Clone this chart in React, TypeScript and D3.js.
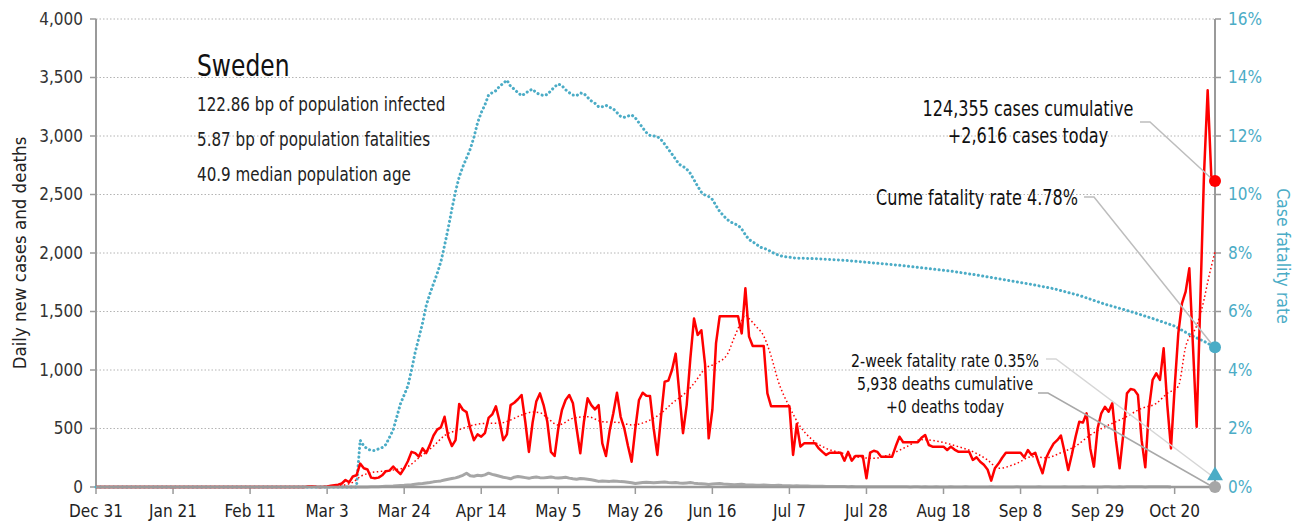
import React from 'react'
import * as d3 from 'd3'

// daily series start on Dec 31, 2019 (index = days since then)
const startDate = '2019-12-31'
const endDate = '2020-10-31'

const dailyCases = [
  0,0,0,0,0,0,0,0,0,0, 0,0,0,0,0,0,0,0,0,0, 0,0,0,0,0,0,0,0,0,0,
  0,0,1,0,0,0,0,0,0,0, 0,0,0,0,0,0,0,0,0,0, 0,0,0,0,0,0,0,1,5,5,
  2,1,2,
  5,10,15,20,30,60,40,90,100,200, 160,150,80,75,80,100,135,140,175,140,
  110,160,220,300,290,260,330,290,360,440, 490,510,600,430,350,400,710,660,640,500,
  400,450,430,460,590,620,690,560,400,450, 700,720,750,786,560,300,550,730,800,700,
  560,300,265,500,658,744,786,715,500,288, 560,758,700,664,700,373,265,480,630,806,
  600,501,350,216,500,744,806,780,778,500, 274,600,900,909,1000,1140,800,460,700,1100,
  1440,1300,1340,1050,416,660,1230,1460,1460,1460, 1460,1460,1460,1313,1698,1285,1205,1205,1205,1205,
  800,690,690,690,690,690,690,274,538,345, 373,373,373,373,330,300,274,293,293,293,
  293,225,300,225,265,265,265,74,293,310, 300,259,259,259,259,350,430,382,382,382,
  382,382,420,444,359,345,345,345,345,316, 345,320,302,302,302,302,231,254,216,190,
  150,54,160,200,250,293,293,293,293,293, 254,316,274,293,200,117,250,316,370,400,
  440,300,145,280,430,558,550,630,330,174, 500,630,686,644,715,400,160,450,800,838,
  830,786,400,168,672,915,972,915,1185,700, 330,850,1313,1570,1670,1869,1200,515,1590,2670,
  3390,2650,2616,
]

const dailyDeaths = [
  0,0,0,0,0,0,0,0,0,0, 0,0,0,0,0,0,0,0,0,0, 0,0,0,0,0,0,0,0,0,0,
  0,0,0,0,0,0,0,0,0,0, 0,0,0,0,0,0,0,0,0,0, 0,0,0,0,0,0,0,0,0,0,
  0,0,0,
  0,0,0,0,0,0,0,0,1,0, 1,1,2,3,3,5,6,7,8,10,
  12,14,17,20,24,28,30,34,38,44, 48,52,60,66,72,78,88,100,118,96,
  92,100,96,104,118,108,100,92,84,78, 70,84,90,86,80,74,82,86,80,78,
  82,86,80,76,80,84,76,70,66,72, 70,66,62,56,48,52,50,48,52,50,
  46,44,40,36,30,34,38,40,38,36, 38,40,42,38,36,38,34,32,35,38,
  33,30,28,26,22,25,28,30,26,24, 22,20,22,24,20,18,17,16,15,17,
  15,13,12,14,12,11,10,9,10,8, 9,8,7,7,6,6,5,5,5,4,
  4,4,3,4,3,3,3,3,3,2, 3,2,2,2,2,2,3,2,2,1, 2,2,1,2,1,1,2,1,1,1,
  2,1,1,1,2,1,1,1,1,1, 1,2,1,1,1,1,1,1,2,1, 1,1,1,1,2,1,1,1,1,1,
  1,2,1,1,1,1,2,1,1,1, 1,1,2,2,1,1,2,1,2,2, 3,2,2,1,2,3,2,3,2,2,
  0,
]

// 7-day trend of new cases (red dotted), read at irregular days
const trendDay = [0,63,66,70,72,74,78,81,85,88,92,95,99,103,107,110,112,116,119,121,123,126,130,134,138,143,146,150,154,157,161,163,166,169,172,174,176,177,178,180,182,184,186,189,192,195,199,203,207,212,216,221,225,230,235,239,243,246,251,255,259,263,267,271,275,280,285,289,292,295,297,300,302,303,305]
const trendValue = [0,0,10,40,88,115,135,145,175,250,350,440,490,530,545,545,560,615,640,635,590,530,587,601,558,550,530,558,630,715,815,886,1010,1057,1130,1280,1420,1470,1440,1370,1290,1120,900,686,515,410,330,293,260,245,274,345,405,387,345,302,231,160,202,259,250,293,350,444,515,587,672,715,800,860,1199,1380,1600,1750,2010]

// case fatality rate, percent
const cfrDay = [0,71,
  72,73,74,75,76,77,78,79,80,81,82,83,84,85,86,87,88,89,90,91,
  92,93,94,95,96,97,98,99,100,101,102,103,104,105,106,107,108,109,110,111,
  112,113,114,115,116,117,118,119,120,121,122,123,124,125,126,127,128,129,130,131,
  132,133,134,135,136,137,138,139,140,141,142,143,144,145,146,147,148,149,150,151,
  152,153,154,155,156,157,158,159,160,161,162,163,164,165,166,167,168,169,170,171,
  172,173,174,175,176,177,178,179,180,181,182,183,184,185,186,187,188,189,190,
  197,205,212,219,226,233,240,247,254,261,268,275,282,289,294,298,302,305]
const cfrValue = [0,0,
  1.6,1.4,1.3,1.25,1.25,1.3,1.35,1.45,1.7,1.95,2.4,2.85,3.15,3.45,4.0,4.6,5.1,5.6,6.2,6.6,
  6.95,7.3,7.7,8.25,8.85,9.5,10.1,10.6,10.95,11.25,11.55,11.95,12.45,12.8,13.06,13.4,13.48,13.55,13.7,13.8,
  13.91,13.7,13.6,13.48,13.38,13.45,13.55,13.6,13.48,13.42,13.38,13.42,13.55,13.68,13.78,13.72,13.58,13.48,13.4,13.38,
  13.47,13.45,13.32,13.2,13.12,13.0,13.0,13.05,12.98,12.93,12.8,12.67,12.64,12.68,12.72,12.62,12.45,12.28,12.12,12.02,
  12.0,11.98,11.88,11.72,11.55,11.38,11.2,11.03,10.96,10.87,10.72,10.5,10.28,10.08,9.98,9.93,9.83,9.62,9.42,9.28,
  9.15,9.06,9.0,8.95,8.82,8.62,8.46,8.38,8.3,8.2,8.16,8.12,8.04,7.98,7.93,7.89,7.87,7.86,7.83,
  7.8,7.74,7.66,7.58,7.48,7.38,7.25,7.1,6.95,6.78,6.55,6.25,6.0,5.72,5.5,5.22,4.98,4.78]

const leftTicks = [0, 500, 1000, 1500, 2000, 2500, 3000, 3500, 4000]
const rightTicks = [0, 2, 4, 6, 8, 10, 12, 14, 16]

const title = 'Sweden'
const stats = ['122.86 bp of population infected', '5.87 bp of population fatalities', '40.9 median population age']
const casesNote = ['124,355 cases cumulative', '+2,616 cases today']
const cfrNote = 'Cume fatality rate 4.78%'
const twoWeekRate = 0.35
const deathsNote = ['2-week fatality rate 0.35%', '5,938 deaths cumulative', '+0 deaths today']

const FONT = "'DejaVu Sans Condensed', 'DejaVu Sans', sans-serif"
const RED = '#ff0000'
const BLUE = '#4bacc6'
const GRAY = '#a6a6a6'

const W = 1314, H = 524
const m = { left: 96, right: 1215, top: 19, bottom: 487 }

// text squeezed horizontally, to look like the narrow face of the original
function NText(props: { x: number, y: number, size: number, sx: number, anchor?: string, fill?: string, children: any }) {
  const { x, y, size, sx, anchor = 'start', fill = '#111', children } = props
  return (
    <text transform={`translate(${x},${y}) scale(${sx},1)`} textAnchor={anchor} fontSize={size} fill={fill}>{children}</text>
  )
}

export default function App() {
  const t0 = d3.timeParse('%Y-%m-%d')(startDate) as Date
  const t1 = d3.timeParse('%Y-%m-%d')(endDate) as Date
  const day = (i: number) => d3.timeDay.offset(t0, i)

  const x = d3.scaleTime().domain([t0, t1]).range([m.left, m.right])
  const yL = d3.scaleLinear().domain([0, 4000]).range([m.bottom, m.top])
  const yR = d3.scaleLinear().domain([0, 16]).range([m.bottom, m.top])

  const xTicks = d3.range(0, 15).map(i => day(i * 21))
  const fmtDate = d3.timeFormat('%b %-d')
  const fmtNum = d3.format(',')

  const lineL = d3.line<[number, number]>().x(d => x(day(d[0]))).y(d => yL(d[1]))
  const lineR = d3.line<[number, number]>().x(d => x(day(d[0]))).y(d => yR(d[1]))
  const smooth = d3.line<[number, number]>().x(d => x(day(d[0]))).y(d => yL(d[1])).curve(d3.curveMonotoneX)

  const casesPts = dailyCases.map((v, i) => [i, v] as [number, number])
  const deathsPts = dailyDeaths.map((v, i) => [i, v] as [number, number])
  const trendPts = trendDay.map((d, i) => [d, trendValue[i]] as [number, number])
  const cfrPts = cfrDay.map((d, i) => [d, cfrValue[i]] as [number, number])

  const lastI = dailyCases.length - 1
  const ex = x(day(lastI))
  const lastCases = yL(dailyCases[lastI])
  const lastCfr = yR(cfrValue[cfrValue.length - 1])
  const lastDeaths = yL(dailyDeaths[dailyDeaths.length - 1])
  const twoWeekY = yR(twoWeekRate)

  return (
    <svg width={W} height={H} style={{ position: 'absolute', left: 0, top: 0, background: '#fff' }} fontFamily={FONT}>
      {/* grid */}
      {leftTicks.filter(v => v > 0).map(v => (
        <line key={'g' + v} x1={m.left} x2={m.right} y1={yL(v)} y2={yL(v)} stroke="#b4b4b4" strokeWidth={1} strokeDasharray="1.5,2" />
      ))}

      {/* axes */}
      <line x1={m.left} x2={m.left} y1={m.top} y2={m.bottom} stroke="#9a9a9a" strokeWidth={2} />
      <line x1={m.right} x2={m.right} y1={m.top} y2={m.bottom} stroke="#9a9a9a" strokeWidth={2} />
      {leftTicks.map(v => (
        <g key={'l' + v}>
          <line x1={m.left - 6} x2={m.left} y1={yL(v)} y2={yL(v)} stroke="#9a9a9a" strokeWidth={1.5} />
          <text x={m.left - 13} y={yL(v)} dy="0.35em" textAnchor="end" fontSize={17} fill="#333">{fmtNum(v)}</text>
        </g>
      ))}
      {rightTicks.map(v => (
        <g key={'r' + v}>
          <line x1={m.right} x2={m.right + 6} y1={yR(v)} y2={yR(v)} stroke="#9a9a9a" strokeWidth={1.5} />
          <text x={m.right + 13} y={yR(v)} dy="0.35em" textAnchor="start" fontSize={17} fill={BLUE}>{v + '%'}</text>
        </g>
      ))}
      {xTicks.map((t, i) => (
        <g key={'x' + i}>
          <line x1={x(t)} x2={x(t)} y1={m.bottom} y2={m.bottom + 7} stroke="#9a9a9a" strokeWidth={1.5} />
          <text x={x(t)} y={517} textAnchor="middle" fontSize={17} fill="#222">{fmtDate(t)}</text>
        </g>
      ))}
      <text transform={`translate(26,${(m.top + m.bottom) / 2}) rotate(-90)`} textAnchor="middle" fontSize={18.5} fill="#222">Daily new cases and deaths</text>
      <text transform={`translate(1277,${(m.top + m.bottom) / 2 + 3}) rotate(90)`} textAnchor="middle" fontSize={17.5} fill={BLUE}>Case fatality rate</text>

      {/* series */}
      <path d={lineL(deathsPts) || ''} fill="none" stroke={GRAY} strokeWidth={3} strokeLinejoin="round" />
      <path d={lineR(cfrPts) || ''} fill="none" stroke={BLUE} strokeWidth={3} strokeDasharray="0.1,4.3" strokeLinecap="round" />
      <path d={smooth(trendPts) || ''} fill="none" stroke={RED} strokeWidth={1.5} strokeDasharray="1.5,2.5" />
      <path d={lineL(casesPts) || ''} fill="none" stroke={RED} strokeWidth={2.5} strokeLinejoin="round" />
      <line x1={m.left} x2={m.right} y1={m.bottom} y2={m.bottom} stroke="#9a9a9a" strokeWidth={2.5} />

      {/* leaders */}
      <polyline points={`1140,122 1150,122 ${ex - 3},${lastCases - 2}`} fill="none" stroke="#bdbdbd" strokeWidth={1.5} />
      <polyline points={`1084,197 1094,197 ${ex - 3},${lastCfr - 3}`} fill="none" stroke="#bdbdbd" strokeWidth={1.5} />
      <polyline points={`1046,359 1056,359 ${ex - 2},${twoWeekY}`} fill="none" stroke="#d6d6d6" strokeWidth={1.5} />
      <polyline points={`1038,393 1048,393 ${ex - 2},${lastDeaths}`} fill="none" stroke="#a8a8a8" strokeWidth={1.5} />

      {/* end markers */}
      <circle cx={ex} cy={lastDeaths} r={6} fill={GRAY} />
      <path d={d3.symbol(d3.symbolTriangle, 110)() || ''} transform={`translate(${ex},${twoWeekY - 1})`} fill={BLUE} />
      <circle cx={ex} cy={lastCfr} r={6} fill={BLUE} />
      <circle cx={ex} cy={lastCases} r={6} fill={RED} />

      {/* text */}
      <NText x={197} y={76} size={31} sx={0.84}>{title}</NText>
      {stats.map((s, i) => (
        <NText key={s} x={197} y={111 + i * 35} size={19.6} sx={0.86} fill="#222">{s}</NText>
      ))}
      {casesNote.map((s, i) => (
        <NText key={s} x={1028} y={116 + i * 27} size={20.5} sx={0.87} anchor="middle">{s}</NText>
      ))}
      <NText x={1078} y={205} size={20.5} sx={0.87} anchor="end">{cfrNote}</NText>
      {deathsNote.map((s, i) => (
        <NText key={s} x={945} y={366.5 + i * 23.3} size={18.5} sx={0.85} anchor="middle">{s}</NText>
      ))}
    </svg>
  )
}
